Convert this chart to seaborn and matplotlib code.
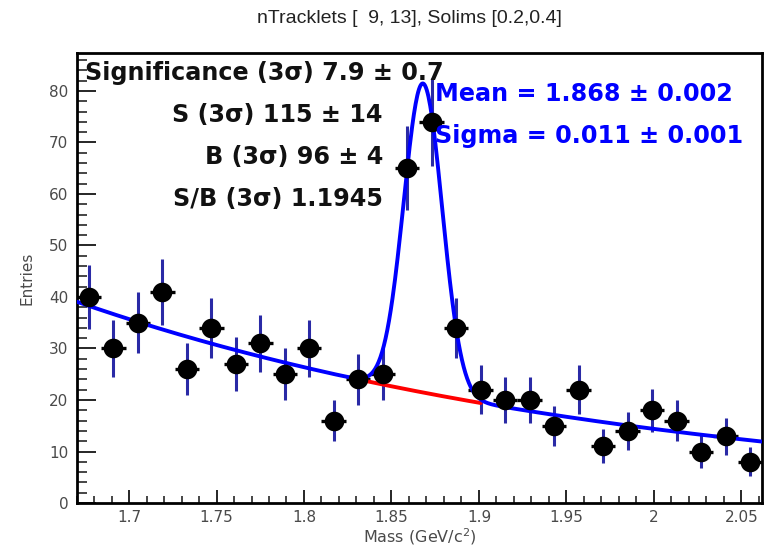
import numpy as np
import pandas as pd
import matplotlib
matplotlib.use("Agg")
import matplotlib.pyplot as plt
import seaborn as sns
from matplotlib.ticker import MultipleLocator

# ---- data ----
bin_centers = [1.677, 1.691, 1.705, 1.719, 1.733, 1.747, 1.761, 1.775, 1.789, 1.803,
               1.817, 1.831, 1.845, 1.859, 1.873, 1.887, 1.901, 1.915, 1.929, 1.943,
               1.957, 1.971, 1.985, 1.999, 2.013, 2.027, 2.041, 2.055]
entries = [40, 30, 35, 41, 26, 34, 27, 31, 25, 30,
           16, 24, 25, 65, 74, 34, 22, 20, 20, 15,
           22, 11, 14, 18, 16, 10, 13, 8]
entry_errors = [6.3, 5.5, 5.9, 6.4, 5.1, 5.8, 5.2, 5.6, 5.0, 5.5,
                4.0, 4.9, 5.0, 8.1, 8.6, 5.8, 4.7, 4.5, 4.5, 3.9,
                4.7, 3.3, 3.7, 4.2, 4.0, 3.2, 3.6, 2.8]
half_bin = 0.007

# fit parameters (gaussian + exponential background)
fit_mean = 1.868
fit_sigma = 0.011
fit_amp = 60.0
bkg_norm = 39.1      # value at x = 1.67
bkg_slope = -3.03
x_min, x_max = 1.67, 2.062
sig_lo, sig_hi = 1.835, 1.901

x_tick_vals = [1.7, 1.75, 1.8, 1.85, 1.9, 1.95, 2.0, 2.05]
x_tick_labels = ["1.7", "1.75", "1.8", "1.85", "1.9", "1.95", "2", "2.05"]

title = "nTracklets [  9, 13], Solims [0.2,0.4]"
stat_lines = ["Significance (3\u03c3) 7.9 \u00b1 0.7",
              "S (3\u03c3) 115 \u00b1 14",
              "B (3\u03c3) 96 \u00b1 4",
              "S/B (3\u03c3) 1.1945"]
fit_lines = ["Mean = 1.868 \u00b1 0.002",
             "Sigma = 0.011 \u00b1 0.001"]

# ---- build curves ----
xs = np.linspace(x_min, x_max, 800)
bkg = bkg_norm * np.exp(bkg_slope * (xs - x_min))
total = bkg + fit_amp * np.exp(-0.5 * ((xs - fit_mean) / fit_sigma) ** 2)
fit_df = pd.DataFrame({"x": xs, "y": total})
xr = np.linspace(sig_lo, sig_hi, 200)
bkg_df = pd.DataFrame({"x": xr, "y": bkg_norm * np.exp(bkg_slope * (xr - x_min))})
pts = pd.DataFrame({"x": bin_centers, "y": entries})

sns.set_theme(style="white")
plt.rcParams["font.family"] = ["DejaVu Sans"]

fig = plt.figure(figsize=(7.69, 5.47), dpi=100)
ax = fig.add_axes([0.0995, 0.0804, 0.892, 0.823])

ax.errorbar(bin_centers, entries, yerr=entry_errors, fmt="none",
            ecolor="#2a2aa6", elinewidth=2.2, capsize=0, zorder=2)
ax.errorbar(bin_centers, entries, xerr=half_bin, fmt="none",
            ecolor="black", elinewidth=2.4, capsize=0, zorder=3)
sns.lineplot(data=bkg_df, x="x", y="y", color="#ff0000", linewidth=2.8, ax=ax, zorder=4)
sns.lineplot(data=fit_df, x="x", y="y", color="#0000ff", linewidth=2.8, ax=ax, zorder=5)
sns.scatterplot(data=pts, x="x", y="y", color="black", s=200, edgecolor="black",
                linewidth=0, ax=ax, zorder=6)

ax.set_xlim(x_min, x_max)
ax.set_ylim(0, 87.4)
ax.xaxis.set_minor_locator(MultipleLocator(0.01))
ax.yaxis.set_major_locator(MultipleLocator(10))
ax.yaxis.set_minor_locator(MultipleLocator(2))
ax.set_xticks(x_tick_vals)
ax.set_xticklabels(x_tick_labels)
ax.tick_params(axis="x", which="major", direction="in", length=9.5, width=1.4,
               top=False, bottom=True, pad=5, labelsize=11, labelcolor="#4a4a4a")
ax.tick_params(axis="x", which="minor", direction="in", length=4.8, width=1.2,
               top=False, bottom=True)
ax.tick_params(axis="y", which="major", direction="in", length=14, width=1.4,
               left=True, right=False, pad=6, labelsize=11, labelcolor="#4a4a4a")
ax.tick_params(axis="y", which="minor", direction="in", length=7, width=1.2,
               left=True, right=False)
for sp in ax.spines.values():
    sp.set_color("black")
    sp.set_linewidth(2.0)

ax.set_xlabel("Mass (GeV/c$^{2}$)", fontsize=11.5, color="#4a4a4a", labelpad=1)
ax.set_ylabel("Entries", fontsize=11, color="#4a4a4a", labelpad=10)
fig.text(0.532, 0.967, title, ha="center", va="center", fontsize=14,
         color="#222222", family=["Liberation Sans", "DejaVu Sans"])

# stats text (figure pixel coords -> fraction)
W, H = 769.0, 547.0
fig.text(85 / W, 1 - 73 / H, stat_lines[0], ha="left", va="center",
         fontsize=17.2, fontweight="bold", color="#111111")
for line, yc in zip(stat_lines[1:], [115, 157, 199]):
    fig.text(383 / W, 1 - yc / H, line, ha="right", va="center",
             fontsize=17.2, fontweight="bold", color="#111111")
for line, yc in zip(fit_lines, [94, 136]):
    fig.text(435 / W, 1 - yc / H, line, ha="left", va="center",
             fontsize=17.2, fontweight="bold", color="#0000ff")

fig.savefig("out.png", dpi=100)
